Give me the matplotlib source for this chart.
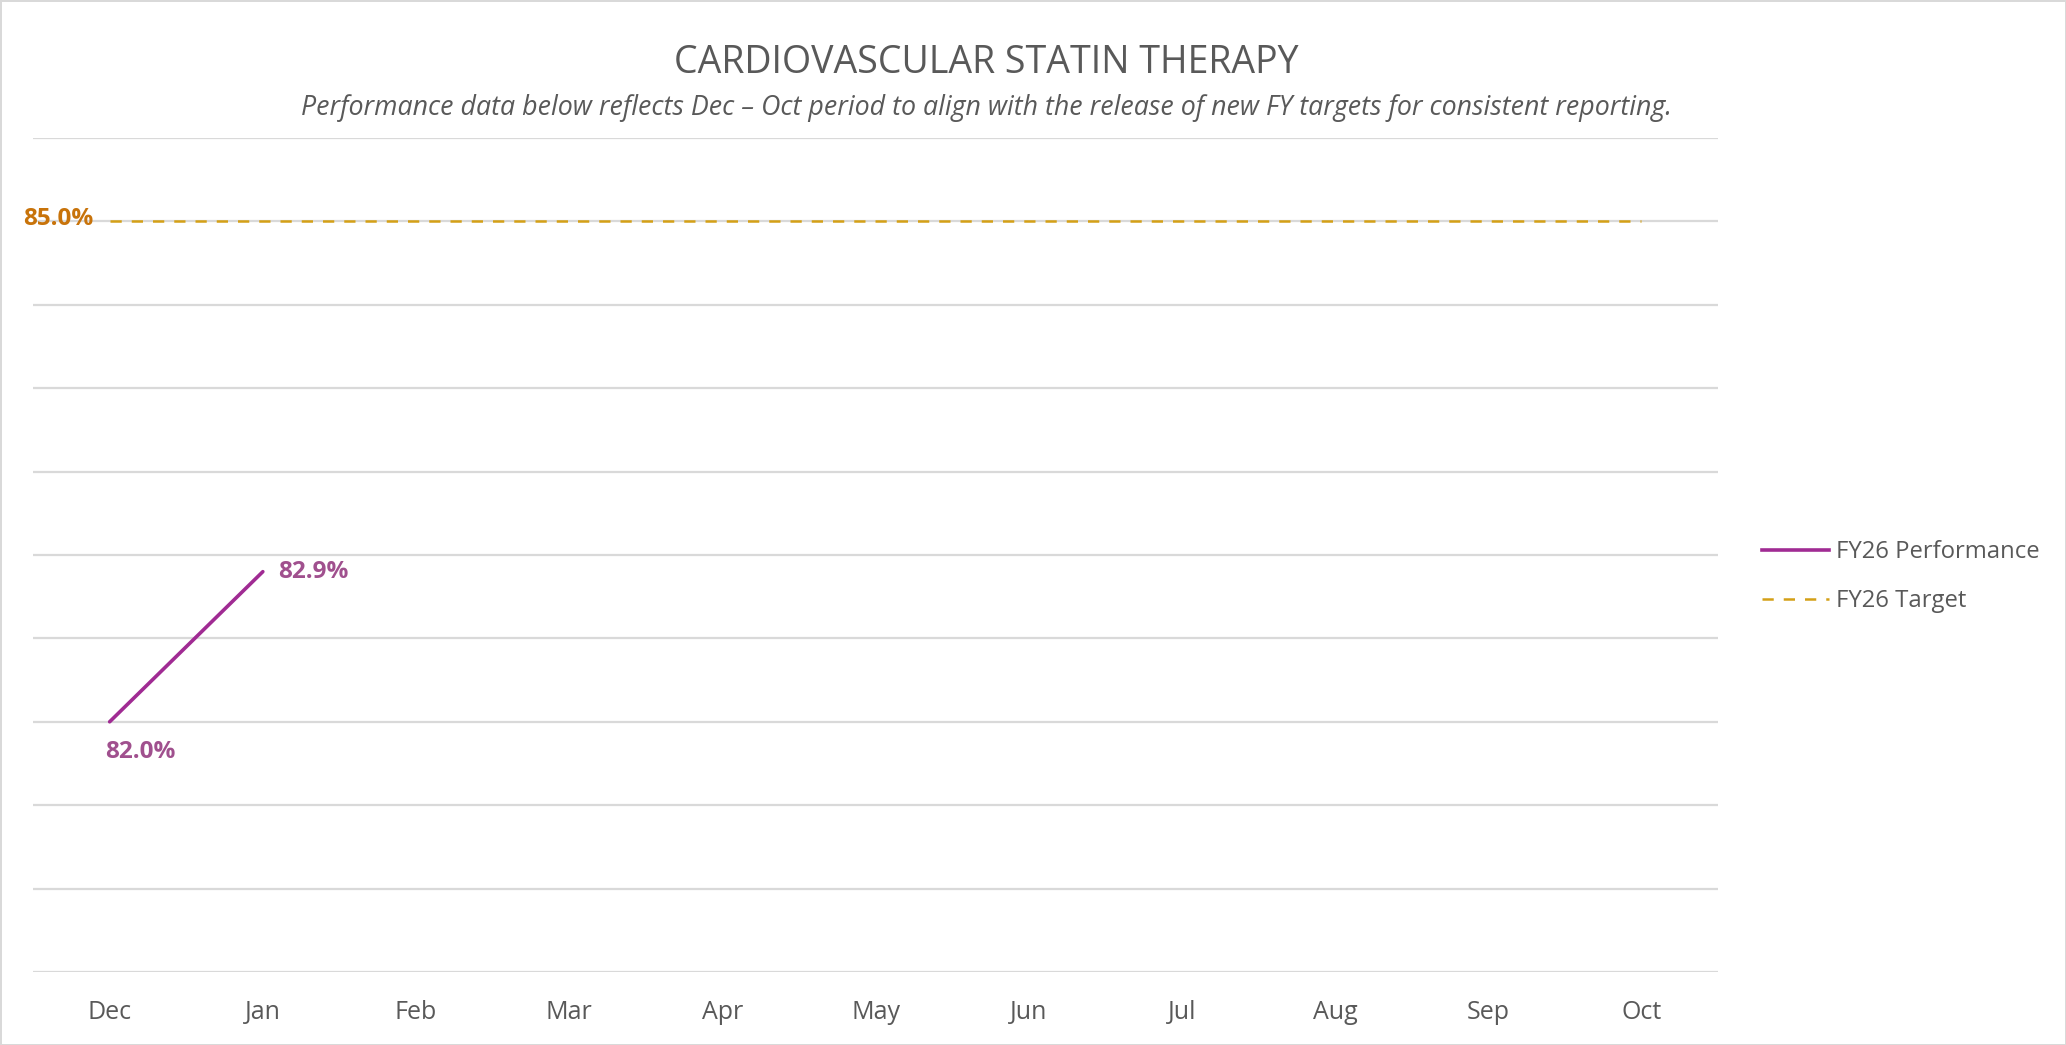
import matplotlib
matplotlib.use("Agg")
import matplotlib.pyplot as plt
from matplotlib.lines import Line2D

plt.rcParams['font.family'] = ['Open Sans', 'DejaVu Sans']

months = ["Dec", "Jan", "Feb", "Mar", "Apr", "May", "Jun", "Jul", "Aug", "Sep", "Oct"]
performance = [82.0, 82.9]
target = [85.0] * len(months)
y_ticks = [80.5, 81.0, 81.5, 82.0, 82.5, 83.0, 83.5, 84.0, 84.5, 85.0, 85.5]

title = "CARDIOVASCULAR STATIN THERAPY"
subtitle = ("Performance data below reflects Dec \u2013 Oct period to align with the release "
            "of new FY targets for consistent reporting.")

perf_color = "#A02B93"
perf_label_color = "#A0508E"
target_color = "#D4A017"
target_label_color = "#C8730A"
grid_color = "#D9D9D9"
text_color = "#595959"

fig = plt.figure(figsize=(20.66, 10.45), dpi=100)
fig.patch.set_facecolor("white")
fig.patch.set_edgecolor("#D9D9D9")
fig.patch.set_linewidth(2)

ax = fig.add_axes([0.016, 0.0699, 0.8156, 0.798])
x = list(range(len(months)))

ax.plot(x[:len(performance)], performance, color=perf_color, lw=2.6, solid_capstyle="round")
ax.plot(x, target, color=target_color, lw=1.8, ls=(0, (4.5, 4)))

ax.set_xlim(-0.5, len(months) - 0.5)
ax.set_ylim(y_ticks[0], y_ticks[-1])
ax.set_yticks(y_ticks)
ax.yaxis.grid(True, color=grid_color, lw=1.6)
ax.set_axisbelow(True)
ax.tick_params(axis="y", left=False, labelleft=False)
ax.tick_params(axis="x", bottom=False, length=0, pad=20.5, labelsize=18, labelcolor=text_color)
ax.set_xticks(x)
ax.set_xticklabels(months)
for s in ax.spines.values():
    s.set_visible(False)

# data labels
ax.annotate(f"{performance[0]:.1f}%", (x[0], performance[0]), xytext=(22, -22),
            textcoords="offset points", ha="center", va="center",
            fontsize=17.5, fontweight="bold", color=perf_label_color)
ax.annotate(f"{performance[1]:.1f}%", (x[1], performance[1]), xytext=(11, 0),
            textcoords="offset points", ha="left", va="center",
            fontsize=17.5, fontweight="bold", color=perf_label_color)
ax.annotate(f"{target[0]:.1f}%", (x[0], target[0]), xytext=(-12, 2),
            textcoords="offset points", ha="right", va="center",
            fontsize=17.5, fontweight="bold", color=target_label_color)

fig.text(0.4775, 0.9395, title, ha="center", va="center", fontsize=27, color=text_color)
fig.text(0.4775, 0.897, subtitle, ha="center", va="center", fontsize=19.25,
         style="italic", color=text_color)

handles = [Line2D([], [], color=perf_color, lw=2.6),
           Line2D([], [], color=target_color, lw=1.8, ls=(0, (4.5, 4)))]
fig.legend(handles, ["FY26 Performance", "FY26 Target"], loc="center left",
           bbox_to_anchor=(0.8425, 0.448), frameon=False, fontsize=17.2,
           labelcolor=text_color, handlelength=2.8, handletextpad=0.3,
           labelspacing=1.05)

fig.savefig("out.png", dpi=100, facecolor=fig.get_facecolor(), edgecolor=fig.get_edgecolor())
